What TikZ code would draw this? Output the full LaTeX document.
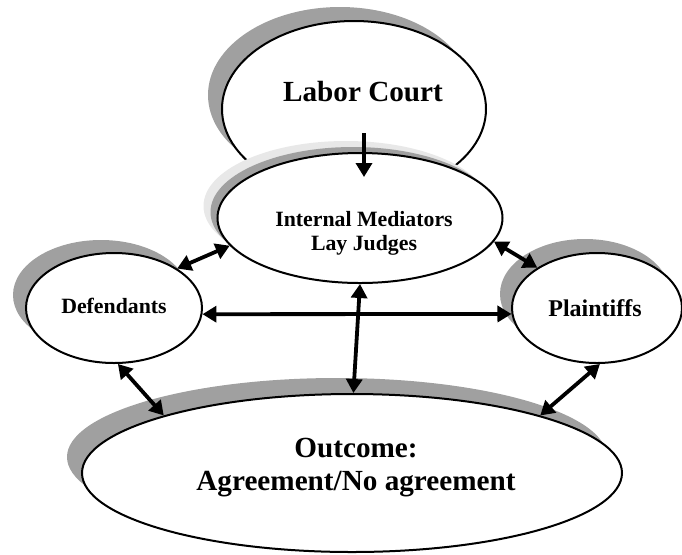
\documentclass[tikz,border=0pt]{standalone}
\usepackage{fontspec}
\setmainfont{Liberation Serif}
\usetikzlibrary{arrows.meta}
\usetikzlibrary{shapes.geometric}
\usetikzlibrary{shadows}
\definecolor{shadowgray}{RGB}{160,160,160}
\definecolor{shadowlight}{RGB}{232,232,232}

\begin{document}
\begin{tikzpicture}[x=0.5pt, y=-0.5pt,
	oval/.style={draw, ellipse, fill=white, line width=1pt, inner sep=0pt},
	castshadow/.style 2 args={drop shadow={shadow xshift=#1, shadow yshift=#2, fill=shadowgray, opacity=1}},
	paleshadow/.style 2 args={drop shadow={shadow xshift=#1, shadow yshift=#2, fill=shadowlight, opacity=1}},
	bigtext/.style={align=center, font={\fontsize{14.6pt}{16.5pt}\selectfont\bfseries}},
	smalltext/.style={align=center, font={\fontsize{10.9pt}{12pt}\selectfont\bfseries}},
	link/.style={{Triangle[length=7pt,width=8pt]}-{Triangle[length=7pt,width=8pt]}, line width=1.9pt},
	oneway/.style={-{Triangle[length=7pt,width=8pt]}, line width=1.9pt}]
	\useasboundingbox (0,0) rectangle (682,554);

	% ovals
	\node[oval, castshadow={-7pt}{7pt}, minimum width=132pt, minimum height=88pt] (court) at (354,109) {};
	\node[oval, paleshadow={-7pt}{6pt}, castshadow={-3.5pt}{3pt}, minimum width=142.5pt, minimum height=65pt] (mediators) at (360,218) {};
	\node[oval, castshadow={-6.5pt}{6.5pt}, minimum width=88pt, minimum height=55pt] (defendants) at (114,308) {};
	\node[oval, castshadow={-6pt}{7pt}, minimum width=85pt, minimum height=55pt] (plaintiffs) at (597,308) {};
	\node[oval, castshadow={-7.5pt}{8pt}, minimum width=270pt, minimum height=79pt] (outcome) at (352,473) {};

	% texts
	\node[bigtext] (courttext) at (363,92) {Labor Court};
	\node[smalltext] (mediatorstext) at (364,233) {Internal Mediators\\Lay Judges};
	\node[smalltext] (defendantstext) at (114,306) {Defendants};
	\node[smalltext, font={\fontsize{12pt}{14pt}\selectfont\bfseries}] (plaintiffstext) at (595,308) {Plaintiffs};
	\node[bigtext] (outcometext) at (356,468) {Outcome:\\Agreement/No agreement};

	% arrows
	\coordinate (courtfoot) at (364,133);
	\coordinate (mediatorstop) at (364,177);
	\draw[oneway] (courtfoot) -- (mediatorstop);
	\draw[link] (mediators.192) -- (defendants.32);
	\draw[link] (mediators.350) -- (plaintiffs.146.5);
	\draw[link] (defendants.-4) -- (plaintiffs.184);
	\draw[link] (mediators.270) -- (outcome.89);
	\draw[link] (defendants.274) -- (outcome.163);
	\draw[link] (plaintiffs.273) -- (outcome.17);
\end{tikzpicture}
\end{document}
